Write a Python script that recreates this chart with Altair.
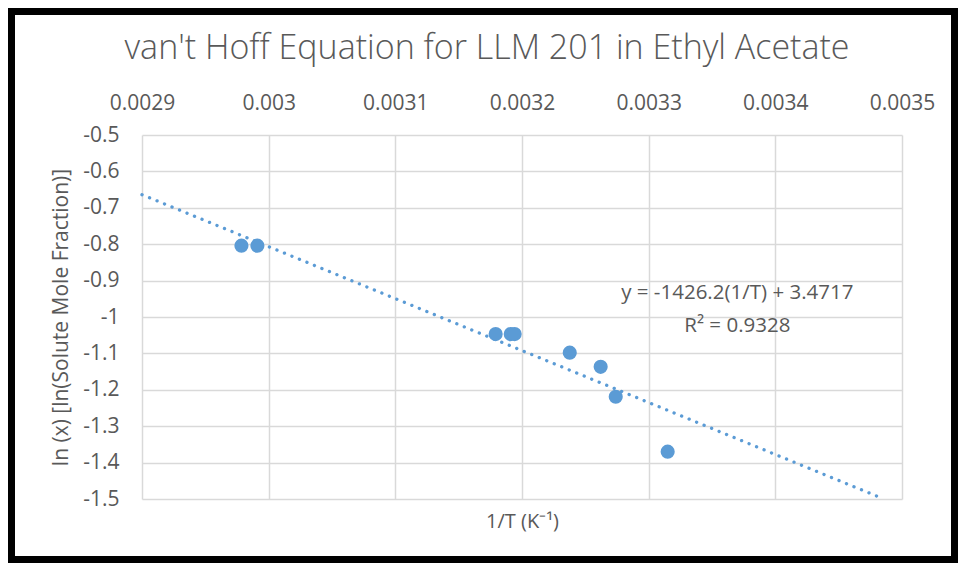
import altair as alt
import pandas as pd

# Data
inv_T = [0.0029785, 0.0029911, 0.0031792, 0.0031911, 0.0031942, 0.0032377, 0.0032621, 0.0032740, 0.0033150]
ln_x = [-0.804, -0.804, -1.047, -1.047, -1.047, -1.098, -1.137, -1.219, -1.370]

# Trendline endpoints (as drawn in the reference)
trend_x = [0.0029, 0.003485]
trend_y = [-0.664, -1.499]

x_ticks = [0.0029, 0.003, 0.0031, 0.0032, 0.0033, 0.0034, 0.0035]
y_ticks = [-0.5, -0.6, -0.7, -0.8, -0.9, -1.0, -1.1, -1.2, -1.3, -1.4, -1.5]

eq_lines = ["y = -1426.2(1/T) + 3.4717", "R\u00b2 = 0.9328"]
eq_x = [0.003370, 0.003370]
eq_y = [-0.934, -1.025]

BLUE = "#5B9BD5"
GREY = "#595959"
GRID = "#D9D9D9"
FONT = "Open Sans"
W, H = 760, 364

pts = pd.DataFrame({"x": inv_T, "y": ln_x})
trend = pd.DataFrame({"x": trend_x, "y": trend_y})
eq = pd.DataFrame({"x": eq_x, "y": eq_y, "t": eq_lines})

x_scale = alt.Scale(domain=[0.0029, 0.0035], nice=False, zero=False)
y_scale = alt.Scale(domain=[-1.5, -0.5], nice=False, zero=False)

x_axis = alt.Axis(
    orient="top", values=x_ticks, labelExpr="'' + datum.value", grid=True, gridColor=GRID, gridWidth=1.5,
    domain=False, ticks=False, labelFlush=False, labelOverlap=False,
    labelFont=FONT, labelFontSize=21, labelColor=GREY, labelPadding=22,
    title="1/T (K\u207b\u00b9)", titleFont=FONT, titleFontSize=20, titleFontWeight="normal",
    titleColor=GREY, titleX=W / 2, titleY=H + 22, titleAlign="center", titleBaseline="middle",
)
y_axis = alt.Axis(
    values=y_ticks, labelExpr="'' + datum.value", grid=True, gridColor=GRID, gridWidth=1.5,
    domain=False, ticks=False, labelFlush=False, labelOverlap=False,
    labelFont=FONT, labelFontSize=21, labelColor=GREY, labelPadding=23,
    title="ln (x) [ln(Solute Mole Fraction)]", titleFont=FONT, titleFontSize=21,
    titleFontWeight="normal", titleColor=GREY, titleAngle=270, titleX=-81, titleY=H / 2,
    titleAlign="center", titleBaseline="middle",
)

x_enc = alt.X("x:Q", scale=x_scale, axis=x_axis)
y_enc = alt.Y("y:Q", scale=y_scale, axis=y_axis)

trend_layer = alt.Chart(trend).mark_line(
    color=BLUE, strokeWidth=3.3, strokeDash=[0.1, 8], strokeCap="round"
).encode(x=x_enc, y=y_enc)

pts_layer = alt.Chart(pts).mark_circle(color=BLUE, size=200, opacity=1).encode(x=x_enc, y=y_enc)

eq_layer = alt.Chart(eq).mark_text(
    font=FONT, fontSize=20.5, color=GREY, align="center", baseline="middle"
).encode(x=x_enc, y=y_enc, text="t:N")

frame = alt.Chart(pd.DataFrame({"a": [0]})).mark_rect(
    fill=None, stroke="black", strokeWidth=7
).encode(
    x=alt.value(-130.5), x2=alt.value(W + 52.5),
    y=alt.value(-123.5), y2=alt.value(H + 60.5),
)

chart = alt.layer(trend_layer, pts_layer, eq_layer, frame).properties(
    width=W, height=H,
    padding={"left": 134, "top": 127, "right": 56, "bottom": 64},
    autosize=alt.AutoSizeParams(type="none"),
    background="white",
    title=alt.TitleParams(
        "van't Hoff Equation for LLM 201 in Ethyl Acetate",
        font=FONT, fontSize=34, fontWeight=300, color=GREY, anchor="middle",
        baseline="alphabetic", offset=0, dx=-35, dy=85,
    ),
).configure_view(stroke=None)

chart.save("out.html", embed_options={"renderer": "svg", "actions": False})
